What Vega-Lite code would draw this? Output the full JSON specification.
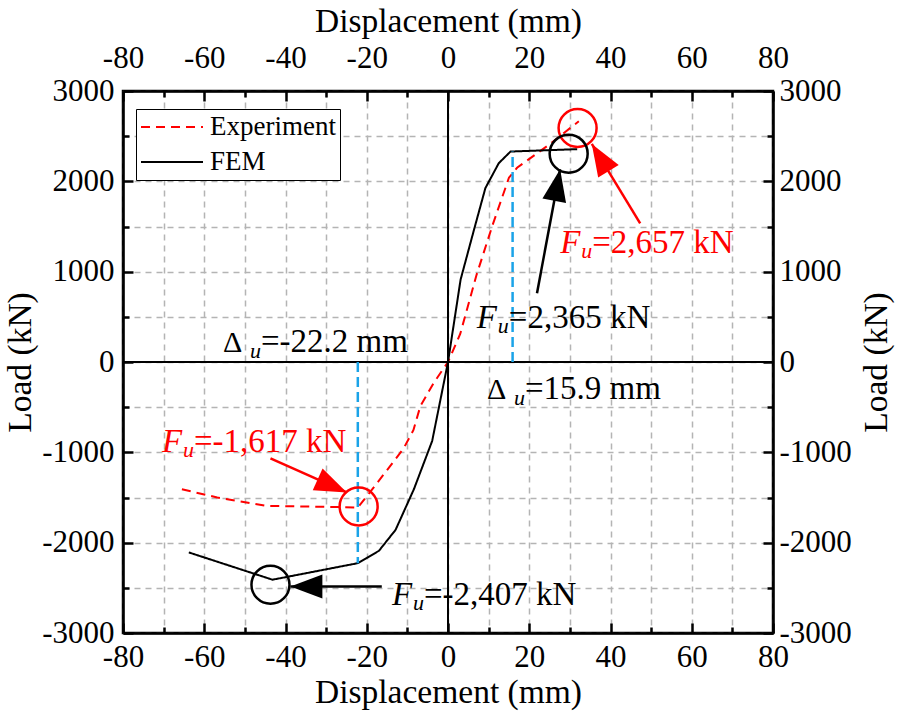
{
  "$schema": "https://vega.github.io/schema/vega-lite/v6.json",
  "width": 650,
  "height": 542,
  "autosize": "none",
  "padding": {"left": 123, "top": 91, "right": 125, "bottom": 91},
  "background": "white",
  "datasets": {
    "curves": [
      {"series": "Experiment", "disp": -65.5, "load": -1409},
      {"series": "Experiment", "disp": -56.8, "load": -1500},
      {"series": "Experiment", "disp": -44.5, "load": -1593},
      {"series": "Experiment", "disp": -27.3, "load": -1605},
      {"series": "Experiment", "disp": -22.2, "load": -1612},
      {"series": "Experiment", "disp": -19.1, "load": -1436},
      {"series": "Experiment", "disp": -15.0, "load": -1196},
      {"series": "Experiment", "disp": -10.9, "load": -955},
      {"series": "Experiment", "disp": -8.5, "load": -752},
      {"series": "Experiment", "disp": -6.8, "load": -488},
      {"series": "Experiment", "disp": -3.5, "load": -230},
      {"series": "Experiment", "disp": 0, "load": 0},
      {"series": "Experiment", "disp": 3, "load": 310},
      {"series": "Experiment", "disp": 7, "load": 960},
      {"series": "Experiment", "disp": 11, "load": 1520},
      {"series": "Experiment", "disp": 15, "load": 2040},
      {"series": "Experiment", "disp": 17, "load": 2150},
      {"series": "Experiment", "disp": 25, "load": 2410},
      {"series": "Experiment", "disp": 32.2, "load": 2665},
      {"series": "FEM", "disp": -63.8, "load": -2108},
      {"series": "FEM", "disp": -43.2, "load": -2410},
      {"series": "FEM", "disp": -22.2, "load": -2227},
      {"series": "FEM", "disp": -17.0, "load": -2090},
      {"series": "FEM", "disp": -12.9, "load": -1858},
      {"series": "FEM", "disp": -8.4, "load": -1409},
      {"series": "FEM", "disp": -3.9, "load": -875},
      {"series": "FEM", "disp": 0, "load": 0},
      {"series": "FEM", "disp": 3.1, "load": 912},
      {"series": "FEM", "disp": 6.4, "load": 1464},
      {"series": "FEM", "disp": 9.2, "load": 1925},
      {"series": "FEM", "disp": 12.5, "load": 2201},
      {"series": "FEM", "disp": 15.4, "load": 2330},
      {"series": "FEM", "disp": 31.8, "load": 2356}
    ],
    "peaks": [
      {"series": "Experiment", "disp": 31.9, "load": 2590},
      {"series": "FEM", "disp": 29.7, "load": 2306},
      {"series": "Experiment", "disp": -22.0, "load": -1600},
      {"series": "FEM", "disp": -43.7, "load": -2466}
    ],
    "arrows": [
      {"id": "exp_pos", "series": "Experiment", "disp": 47.3, "load": 1535, "disp2": 35.4, "load2": 2414},
      {"id": "fem_pos", "series": "FEM", "disp": 21.9, "load": 760, "disp2": 27.6, "load2": 2133},
      {"id": "exp_neg", "series": "Experiment", "disp": -43.7, "load": -1066, "disp2": -24.9, "load2": -1444},
      {"id": "fem_neg", "series": "FEM", "disp": -16.3, "load": -2484, "disp2": -38.8, "load2": -2484}
    ],
    "notes": [
      {"kind": "F", "series": "FEM", "disp": 7.1, "load": 376, "rest": "=2,365 kN"},
      {"kind": "F", "series": "Experiment", "disp": 27.6, "load": 1203, "rest": "=2,657 kN"},
      {"kind": "F", "series": "Experiment", "disp": -70.4, "load": -993, "rest": "=-1,617 kN"},
      {"kind": "F", "series": "FEM", "disp": -13.8, "load": -2690, "rest": "=-2,407 kN"},
      {"kind": "D", "series": "none", "disp": -55.4, "load": 107, "rest": "=-22.2 mm"},
      {"kind": "D", "series": "none", "disp": 9.6, "load": -413, "rest": "=15.9 mm"}
    ],
    "limits": [
      {"disp": 15.9, "load": 0, "load2": 2330},
      {"disp": -22.2, "load": 0, "load2": -2227}
    ],
    "origin": [{"disp": 0, "load": 0}]
  },
  "resolve": {"axis": {"x": "independent", "y": "independent"}},
  "layer": [
    {
      "data": {"name": "curves"},
      "mark": {"type": "line", "strokeWidth": 2},
      "encoding": {
        "x": {
          "field": "disp", "type": "quantitative",
          "scale": {"domain": [-80, 80], "nice": false, "zero": false},
          "axis": {
            "orient": "bottom", "title": "Displacement (mm)",
            "labelFont": "Liberation Serif", "labelFontSize": 31, "titleFont": "Liberation Serif", "titleFontSize": 33.5,
            "values": [-80, -70, -60, -50, -40, -30, -20, -10, 0, 10, 20, 30, 40, 50, 60, 70, 80],
            "labelExpr": "datum.value % 20 === 0 ? toString(datum.value) : ''",
            "grid": true,
            "tickSize": {"condition": {"test": "datum.value % 20 === 0", "value": -10}, "value": -6},
            "labelPadding": 19, "titlePadding": 0
          }
        },
        "y": {
          "field": "load", "type": "quantitative",
          "scale": {"domain": [-3000, 3000], "nice": false, "zero": false},
          "axis": {
            "orient": "left", "title": "Load (kN)",
            "labelFont": "Liberation Serif", "labelFontSize": 31, "titleFont": "Liberation Serif", "titleFontSize": 33.5,
            "values": [-3000, -2500, -2000, -1500, -1000, -500, 0, 500, 1000, 1500, 2000, 2500, 3000],
            "labelExpr": "datum.value % 1000 === 0 ? toString(datum.value) : ''",
            "grid": true,
            "tickSize": {"condition": {"test": "datum.value % 1000 === 0", "value": -10}, "value": -6},
            "labelPadding": 19, "titlePadding": 4
          }
        },
        "color": {
          "field": "series", "type": "nominal",
          "scale": {"domain": ["Experiment", "FEM"], "range": ["#ff0000", "#000000"]},
          "legend": {
            "orient": "none", "legendX": 13, "legendY": 18, "title": null,
            "strokeColor": "black", "fillColor": "white", "padding": 4,
            "labelFont": "Liberation Serif", "labelFontSize": 27, "labelColor": "black",
            "symbolType": "stroke", "symbolSize": 3844, "symbolStrokeWidth": 2,
            "clipHeight": 28, "rowPadding": 7, "labelOffset": 6
          }
        },
        "strokeDash": {
          "field": "series", "type": "nominal",
          "scale": {"domain": ["Experiment", "FEM"], "range": [[9, 6], [1, 0]]},
          "legend": {
            "orient": "none", "legendX": 13, "legendY": 18, "title": null,
            "strokeColor": "black", "fillColor": "white", "padding": 4,
            "labelFont": "Liberation Serif", "labelFontSize": 27, "labelColor": "black",
            "symbolType": "stroke", "symbolSize": 3844, "symbolStrokeWidth": 2,
            "clipHeight": 28, "rowPadding": 7, "labelOffset": 6
          }
        }
      }
    },
    {
      "data": {"name": "curves"},
      "mark": {"type": "point", "opacity": 0},
      "encoding": {
        "x": {
          "field": "disp", "type": "quantitative",
          "axis": {
            "orient": "top", "title": "Displacement (mm)",
            "labelFont": "Liberation Serif", "labelFontSize": 31, "titleFont": "Liberation Serif", "titleFontSize": 33.5,
            "values": [-80, -70, -60, -50, -40, -30, -20, -10, 0, 10, 20, 30, 40, 50, 60, 70, 80],
            "labelExpr": "datum.value % 20 === 0 ? toString(datum.value) : ''",
            "grid": false,
            "tickSize": {"condition": {"test": "datum.value % 20 === 0", "value": -10}, "value": -6},
            "labelPadding": 27, "titlePadding": 0
          }
        },
        "y": {
          "field": "load", "type": "quantitative",
          "axis": {
            "orient": "right", "title": "Load (kN)", "titleAngle": 270, "titleBaseline": "top",
            "labelFont": "Liberation Serif", "labelFontSize": 31, "titleFont": "Liberation Serif", "titleFontSize": 33.5,
            "values": [-3000, -2500, -2000, -1500, -1000, -500, 0, 500, 1000, 1500, 2000, 2500, 3000],
            "labelExpr": "datum.value % 1000 === 0 ? toString(datum.value) : ''",
            "grid": false,
            "tickSize": {"condition": {"test": "datum.value % 1000 === 0", "value": -10}, "value": -6},
            "labelPadding": 16, "titlePadding": 9
          }
        }
      }
    },
    {
      "data": {"name": "origin"},
      "mark": {"type": "rule", "color": "black", "strokeWidth": 2},
      "encoding": {"x": {"field": "disp", "type": "quantitative", "axis": null}}
    },
    {
      "data": {"name": "origin"},
      "mark": {"type": "rule", "color": "black", "strokeWidth": 2},
      "encoding": {"y": {"field": "load", "type": "quantitative", "axis": null}}
    },
    {
      "data": {"name": "limits"},
      "mark": {"type": "rule", "color": "#1aa3e8", "strokeWidth": 2.5, "strokeDash": [10, 5]},
      "encoding": {
        "x": {"field": "disp", "type": "quantitative", "axis": null},
        "y": {"field": "load", "type": "quantitative", "axis": null},
        "y2": {"field": "load2"}
      }
    },
    {
      "data": {"name": "peaks"},
      "mark": {"type": "point", "shape": "circle", "filled": false, "size": 1444, "strokeWidth": 2.5, "opacity": 1},
      "encoding": {
        "x": {"field": "disp", "type": "quantitative", "axis": null},
        "y": {"field": "load", "type": "quantitative", "axis": null},
        "color": {"condition": {"test": "datum.series === 'Experiment'", "value": "#ff0000"}, "value": "#000000"}
      }
    },
    {
      "data": {"name": "arrows"},
      "mark": {"type": "rule", "strokeWidth": 2.5},
      "encoding": {
        "x": {"field": "disp", "type": "quantitative", "axis": null},
        "y": {"field": "load", "type": "quantitative", "axis": null},
        "x2": {"field": "disp2"},
        "y2": {"field": "load2"},
        "color": {"condition": {"test": "datum.series === 'Experiment'", "value": "#ff0000"}, "value": "#000000"}
      }
    },
    {
      "data": {"name": "arrows"},
      "mark": {"type": "point", "shape": "M0,0L-1.2,3.2L1.2,3.2Z", "filled": true, "size": 400, "opacity": 1},
      "encoding": {
        "x": {"field": "disp2", "type": "quantitative", "axis": null},
        "y": {"field": "load2", "type": "quantitative", "axis": null},
        "angle": {"condition": [
          {"test": "datum.id === 'exp_pos'", "value": -31.3},
          {"test": "datum.id === 'fem_pos'", "value": 10.6},
          {"test": "datum.id === 'exp_neg'", "value": 114.2}
        ], "value": 270},
        "color": {"condition": {"test": "datum.series === 'Experiment'", "value": "#ff0000"}, "value": "#000000"}
      }
    },
    {
      "data": {"name": "notes"},
      "transform": [{"filter": "datum.kind === 'F'"}],
      "mark": {"type": "text", "align": "left", "baseline": "alphabetic", "font": "Liberation Serif", "fontSize": 33, "fontStyle": "italic"},
      "encoding": {
        "x": {"field": "disp", "type": "quantitative", "axis": null},
        "y": {"field": "load", "type": "quantitative", "axis": null},
        "text": {"value": "F"},
        "color": {"condition": {"test": "datum.series === 'Experiment'", "value": "#ff0000"}, "value": "#000000"}
      }
    },
    {
      "data": {"name": "notes"},
      "transform": [{"filter": "datum.kind === 'F'"}],
      "mark": {"type": "text", "align": "left", "baseline": "alphabetic", "font": "Liberation Serif", "fontSize": 22, "fontStyle": "italic", "dx": 21, "dy": 5},
      "encoding": {
        "x": {"field": "disp", "type": "quantitative", "axis": null},
        "y": {"field": "load", "type": "quantitative", "axis": null},
        "text": {"value": "u"},
        "color": {"condition": {"test": "datum.series === 'Experiment'", "value": "#ff0000"}, "value": "#000000"}
      }
    },
    {
      "data": {"name": "notes"},
      "transform": [{"filter": "datum.kind === 'F'"}],
      "mark": {"type": "text", "align": "left", "baseline": "alphabetic", "font": "Liberation Serif", "fontSize": 33, "dx": 32},
      "encoding": {
        "x": {"field": "disp", "type": "quantitative", "axis": null},
        "y": {"field": "load", "type": "quantitative", "axis": null},
        "text": {"field": "rest"},
        "color": {"condition": {"test": "datum.series === 'Experiment'", "value": "#ff0000"}, "value": "#000000"}
      }
    },
    {
      "data": {"name": "notes"},
      "transform": [{"filter": "datum.kind === 'D'"}],
      "mark": {"type": "text", "align": "left", "baseline": "alphabetic", "font": "Liberation Serif", "fontSize": 30, "color": "black"},
      "encoding": {
        "x": {"field": "disp", "type": "quantitative", "axis": null},
        "y": {"field": "load", "type": "quantitative", "axis": null},
        "text": {"value": "Δ"}
      }
    },
    {
      "data": {"name": "notes"},
      "transform": [{"filter": "datum.kind === 'D'"}],
      "mark": {"type": "text", "align": "left", "baseline": "alphabetic", "font": "Liberation Serif", "fontSize": 22, "fontStyle": "italic", "color": "black", "dx": 27, "dy": 6},
      "encoding": {
        "x": {"field": "disp", "type": "quantitative", "axis": null},
        "y": {"field": "load", "type": "quantitative", "axis": null},
        "text": {"value": "u"}
      }
    },
    {
      "data": {"name": "notes"},
      "transform": [{"filter": "datum.kind === 'D'"}],
      "mark": {"type": "text", "align": "left", "baseline": "alphabetic", "font": "Liberation Serif", "fontSize": 33, "color": "black", "dx": 38},
      "encoding": {
        "x": {"field": "disp", "type": "quantitative", "axis": null},
        "y": {"field": "load", "type": "quantitative", "axis": null},
        "text": {"field": "rest"}
      }
    }
  ],
  "config": {
    "font": "Liberation Serif",
    "view": {"stroke": "black", "strokeWidth": 2.5},
    "axis": {
      "labelFont": "Liberation Serif", "labelFontSize": 31, "labelColor": "black",
      "titleFont": "Liberation Serif", "titleFontSize": 33.5, "titleFontWeight": "normal", "titleColor": "black",
      "domainColor": "black", "domainWidth": 2.5,
      "tickColor": "black", "tickWidth": 2.5,
      "gridColor": "#b4b4b4", "gridDash": [6, 5], "gridWidth": 1.5, "gridOpacity": 1,
      "labelFlush": false, "labelOverlap": false
    }
  }
}
